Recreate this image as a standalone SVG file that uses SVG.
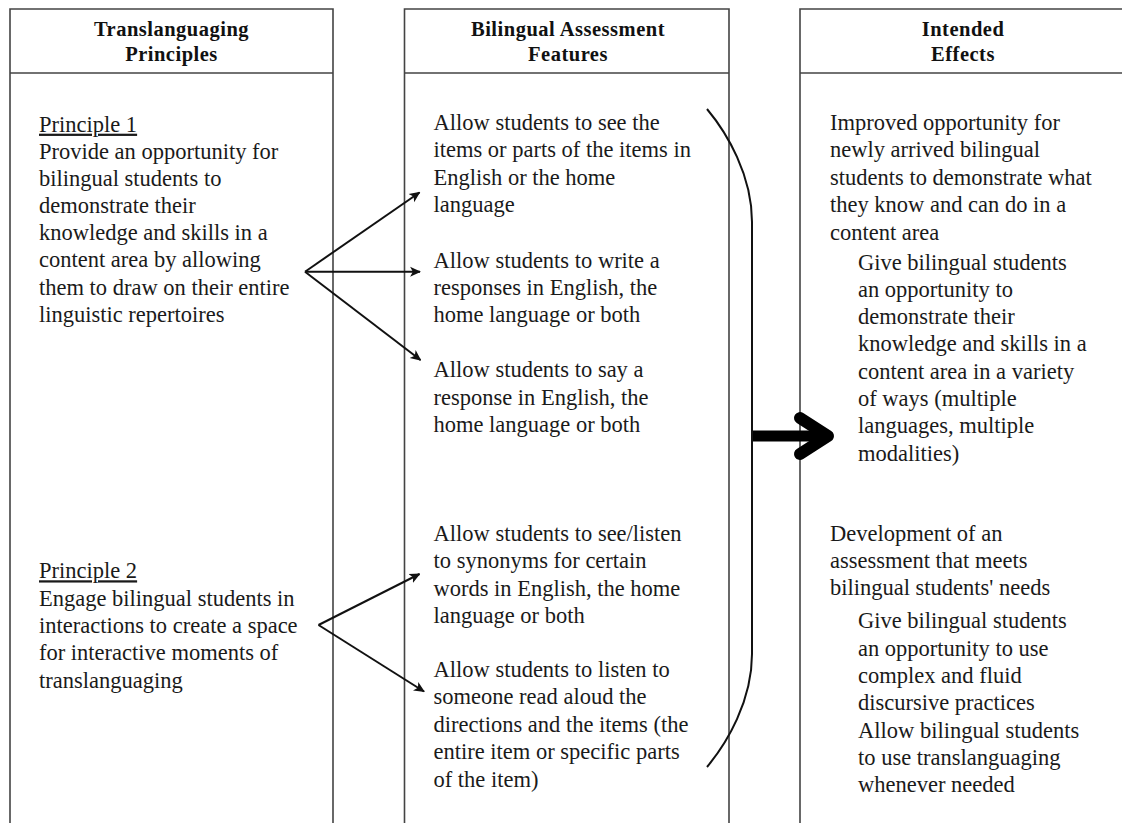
<svg xmlns="http://www.w3.org/2000/svg" width="1122" height="823" viewBox="0 0 1122 823">
<defs>
<style>
.box{fill:none;stroke:#444;stroke-width:1.6}
.hd{font-family:"Liberation Serif","Times New Roman",serif;font-weight:bold;font-size:20.5px;letter-spacing:0.5px;fill:#111;text-anchor:middle}
.tx{font-family:"Liberation Serif","Times New Roman",serif;font-size:22.5px;fill:#1a1a1a}
.ul{text-decoration:underline}
.arr{fill:none;stroke:#111;stroke-width:2;marker-end:url(#ah)}
.brk{fill:none;stroke:#111;stroke-width:2}
</style>
<marker id="ah" viewBox="0 0 10 10" refX="9" refY="5" markerWidth="5.5" markerHeight="5.5" orient="auto" markerUnits="strokeWidth">
<path d="M0,0.5 L10,5 L0,9.5 L2.5,5 Z" fill="#111"/>
</marker>
</defs>
<rect width="1122" height="823" fill="#fff"/>

<g id="col-principles">
<path class="box" d="M10,830 L10,9 L333,9 L333,830 M10,73 L333,73"/>
<text class="hd" x="171.5" y="36">Translanguaging</text>
<text class="hd" x="171.5" y="60.5">Principles</text>
</g>

<g id="principle1">
<text class="tx" x="39" y="131.7"><tspan class="ul">Principle 1</tspan></text>
<text class="tx">
<tspan x="39" y="158.5">Provide an opportunity for</tspan>
<tspan x="39" y="185.6">bilingual students to</tspan>
<tspan x="39" y="212.7">demonstrate their</tspan>
<tspan x="39" y="240">knowledge and skills in a</tspan>
<tspan x="39" y="267.2">content area by allowing</tspan>
<tspan x="39" y="294.5">them to draw on their entire</tspan>
<tspan x="39" y="321.8">linguistic repertoires</tspan>
</text>
</g>

<g id="principle2">
<text class="tx" x="39" y="578.3"><tspan class="ul">Principle 2</tspan></text>
<text class="tx">
<tspan x="39" y="605.7">Engage bilingual students in</tspan>
<tspan x="39" y="633">interactions to create a space</tspan>
<tspan x="39" y="660.3">for interactive moments of</tspan>
<tspan x="39" y="687.6">translanguaging</tspan>
</text>
</g>

<g id="col-features">
<path class="box" d="M404.5,830 L404.5,9 L729,9 L729,830 M404.5,73 L729,73"/>
<text class="hd" x="568" y="36">Bilingual Assessment</text>
<text class="hd" x="568" y="60.5">Features</text>
</g>

<g id="feature1">
<text class="tx">
<tspan x="433.5" y="130">Allow students to see the</tspan>
<tspan x="433.5" y="157.3">items or parts of the items in</tspan>
<tspan x="433.5" y="184.8">English or the home</tspan>
<tspan x="433.5" y="212">language</tspan>
</text>
</g>
<g id="feature2">
<text class="tx">
<tspan x="433.5" y="267.5">Allow students to write a</tspan>
<tspan x="433.5" y="294.8">responses in English, the</tspan>
<tspan x="433.5" y="322.1">home language or both</tspan>
</text>
</g>
<g id="feature3">
<text class="tx">
<tspan x="433.5" y="377.3">Allow students to say a</tspan>
<tspan x="433.5" y="404.5">response in English, the</tspan>
<tspan x="433.5" y="431.5">home language or both</tspan>
</text>
</g>
<g id="feature4">
<text class="tx">
<tspan x="433.5" y="540.7">Allow students to see/listen</tspan>
<tspan x="433.5" y="568.2">to synonyms for certain</tspan>
<tspan x="433.5" y="595.6">words in English, the home</tspan>
<tspan x="433.5" y="622.8">language or both</tspan>
</text>
</g>
<g id="feature5">
<text class="tx">
<tspan x="433.5" y="677.3">Allow students to listen to</tspan>
<tspan x="433.5" y="704.3">someone read aloud the</tspan>
<tspan x="433.5" y="731.7">directions and the items (the</tspan>
<tspan x="433.5" y="759.2">entire item or specific parts</tspan>
<tspan x="433.5" y="786.6">of the item)</tspan>
</text>
</g>

<g id="col-effects">
<path class="box" d="M800,830 L800,9 L1127,9 M800,73 L1127,73"/>
<text class="hd" x="963" y="36">Intended</text>
<text class="hd" x="963" y="60.5">Effects</text>
</g>

<g id="effect1">
<text class="tx">
<tspan x="830" y="130">Improved opportunity for</tspan>
<tspan x="830" y="157.3">newly arrived bilingual</tspan>
<tspan x="830" y="184.8">students to demonstrate what</tspan>
<tspan x="830" y="212.4">they know and can do in a</tspan>
<tspan x="830" y="240">content area</tspan>
<tspan x="858" y="269.5">Give bilingual students</tspan>
<tspan x="858" y="296.8">an opportunity to</tspan>
<tspan x="858" y="324.1">demonstrate their</tspan>
<tspan x="858" y="351.4">knowledge and skills in a</tspan>
<tspan x="858" y="378.7">content area in a variety</tspan>
<tspan x="858" y="406">of ways (multiple</tspan>
<tspan x="858" y="433.3">languages, multiple</tspan>
<tspan x="858" y="460.6">modalities)</tspan>
</text>
</g>

<g id="effect2">
<text class="tx">
<tspan x="830" y="540.7">Development of an</tspan>
<tspan x="830" y="568.2">assessment that meets</tspan>
<tspan x="830" y="595.3">bilingual students' needs</tspan>
<tspan x="858" y="628.3">Give bilingual students</tspan>
<tspan x="858" y="655.6">an opportunity to use</tspan>
<tspan x="858" y="683">complex and fluid</tspan>
<tspan x="858" y="710.3">discursive practices</tspan>
<tspan x="858" y="737.6">Allow bilingual students</tspan>
<tspan x="858" y="765">to use translanguaging</tspan>
<tspan x="858" y="792.3">whenever needed</tspan>
</text>
</g>

<g id="connectors">
<line class="arr" x1="305" y1="271.7" x2="419.5" y2="192.5"/>
<line class="arr" x1="305" y1="271.7" x2="420" y2="271.7"/>
<line class="arr" x1="305" y1="271.7" x2="420.5" y2="360"/>
<line class="arr" x1="318.5" y1="625" x2="419.5" y2="574"/>
<line class="arr" x1="318.5" y1="625" x2="424" y2="691.5"/>
<path class="brk" d="M707,109 C727,133 752,175 752,222 L752,654 C752,701 727,743 707,767"/>
<line x1="753" y1="436" x2="822" y2="436" stroke="#000" stroke-width="11"/>
<polyline points="800,418 828,436 800,454" fill="none" stroke="#000" stroke-width="12" stroke-linecap="round" stroke-linejoin="round"/>
</g>
</svg>
